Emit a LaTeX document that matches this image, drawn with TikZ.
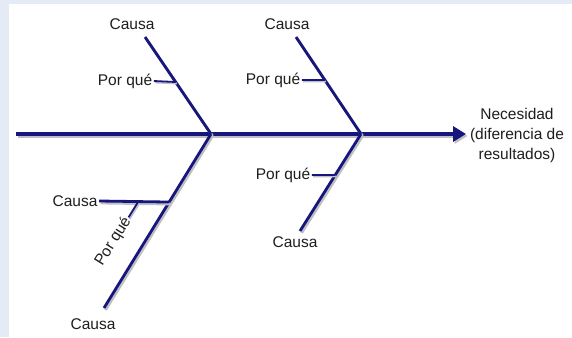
\documentclass[tikz,border=0pt]{standalone}
\usepackage{fontspec}
\setmainfont{Liberation Sans}
\usetikzlibrary{arrows.meta,calc}
\definecolor{bgblue}{RGB}{228,234,246}
\definecolor{bone}{RGB}{22,22,125}
\definecolor{txt}{RGB}{30,30,30}
\definecolor{shade}{RGB}{190,190,195}
\tikzset{
  lbl/.style={inner sep=1.5pt, text=txt, font=\fontsize{15.5}{20}\selectfont},
  spineline/.style={draw=bone, line width=4.5pt,
    preaction={draw=shade, line width=4.5pt, transform canvas={shift={(1.5pt,-2pt)}}}},
  boneline/.style={draw=bone, line width=2.8pt,
    preaction={draw=shade, line width=2.8pt, transform canvas={shift={(1.5pt,-2pt)}}}},
  subline/.style={draw=bone, line width=1.8pt,
    preaction={draw=shade, line width=1.8pt, transform canvas={shift={(1.2pt,-1.5pt)}}}}
}
\begin{document}
\begin{tikzpicture}[x=1pt,y=-1pt]
\useasboundingbox (0,0) rectangle (572,337);
\fill[bgblue] (0,0) rectangle (572,337);
\fill[white] (9,4) rectangle (572,337);

% key points
\coordinate (tail) at (16,134);
\coordinate (head) at (466,134);
\coordinate (j1) at (211,134);
\coordinate (j2) at (361,134);
\coordinate (e1) at (145,37);
\coordinate (e2) at (296,37);
\coordinate (e3) at (104,308);
\coordinate (e4) at (300,231);

% labels
\node[lbl] (c1) at (132,24) {Causa};
\node[lbl] (c2) at (287,24) {Causa};
\node[lbl] (c3) at (75,201) {Causa};
\node[lbl] (c4) at (93,324) {Causa};
\node[lbl] (c5) at (295,242) {Causa};
\node[lbl] (p1) at (125,81) {Por qué};
\node[lbl] (p2) at (273,80) {Por qué};
\node[lbl] (p4) at (283,175) {Por qué};
\node[lbl, align=center] (need) at (517,135) {Necesidad\\(diferencia de\\resultados)};

% points on bones
\coordinate (q1) at ($(e1)!0.464!(j1)$);
\coordinate (q2) at ($(e2)!0.443!(j2)$);
\coordinate (q3) at ($(j1)!0.391!(e3)$);
\coordinate (q4) at ($(j2)!0.423!(e4)$);
\coordinate (r3) at (138,202);
\coordinate (r3e) at ($(r3)!18pt!($(r3)+(-107,174)$)$);
\node[lbl, rotate=58, anchor=east] (p3) at (r3e) {Por qué};

% spine
\draw[spineline, -{Triangle[length=13pt,width=15pt]}] (tail) -- (head);
% bones
\draw[boneline] (e1) -- (j1);
\draw[boneline] (e2) -- (j2);
\draw[boneline] (j1) -- (e3);
\draw[boneline] (j2) -- (e4);
% sub branches
\draw[subline] (p1.east) -- (q1);
\draw[subline] (p2.east) -- (q2);
\draw[subline] (p4.east) -- (q4);
\draw[boneline] (c3.east) -- (q3);
\draw[subline] (r3) -- (r3e);
\end{tikzpicture}
\end{document}
